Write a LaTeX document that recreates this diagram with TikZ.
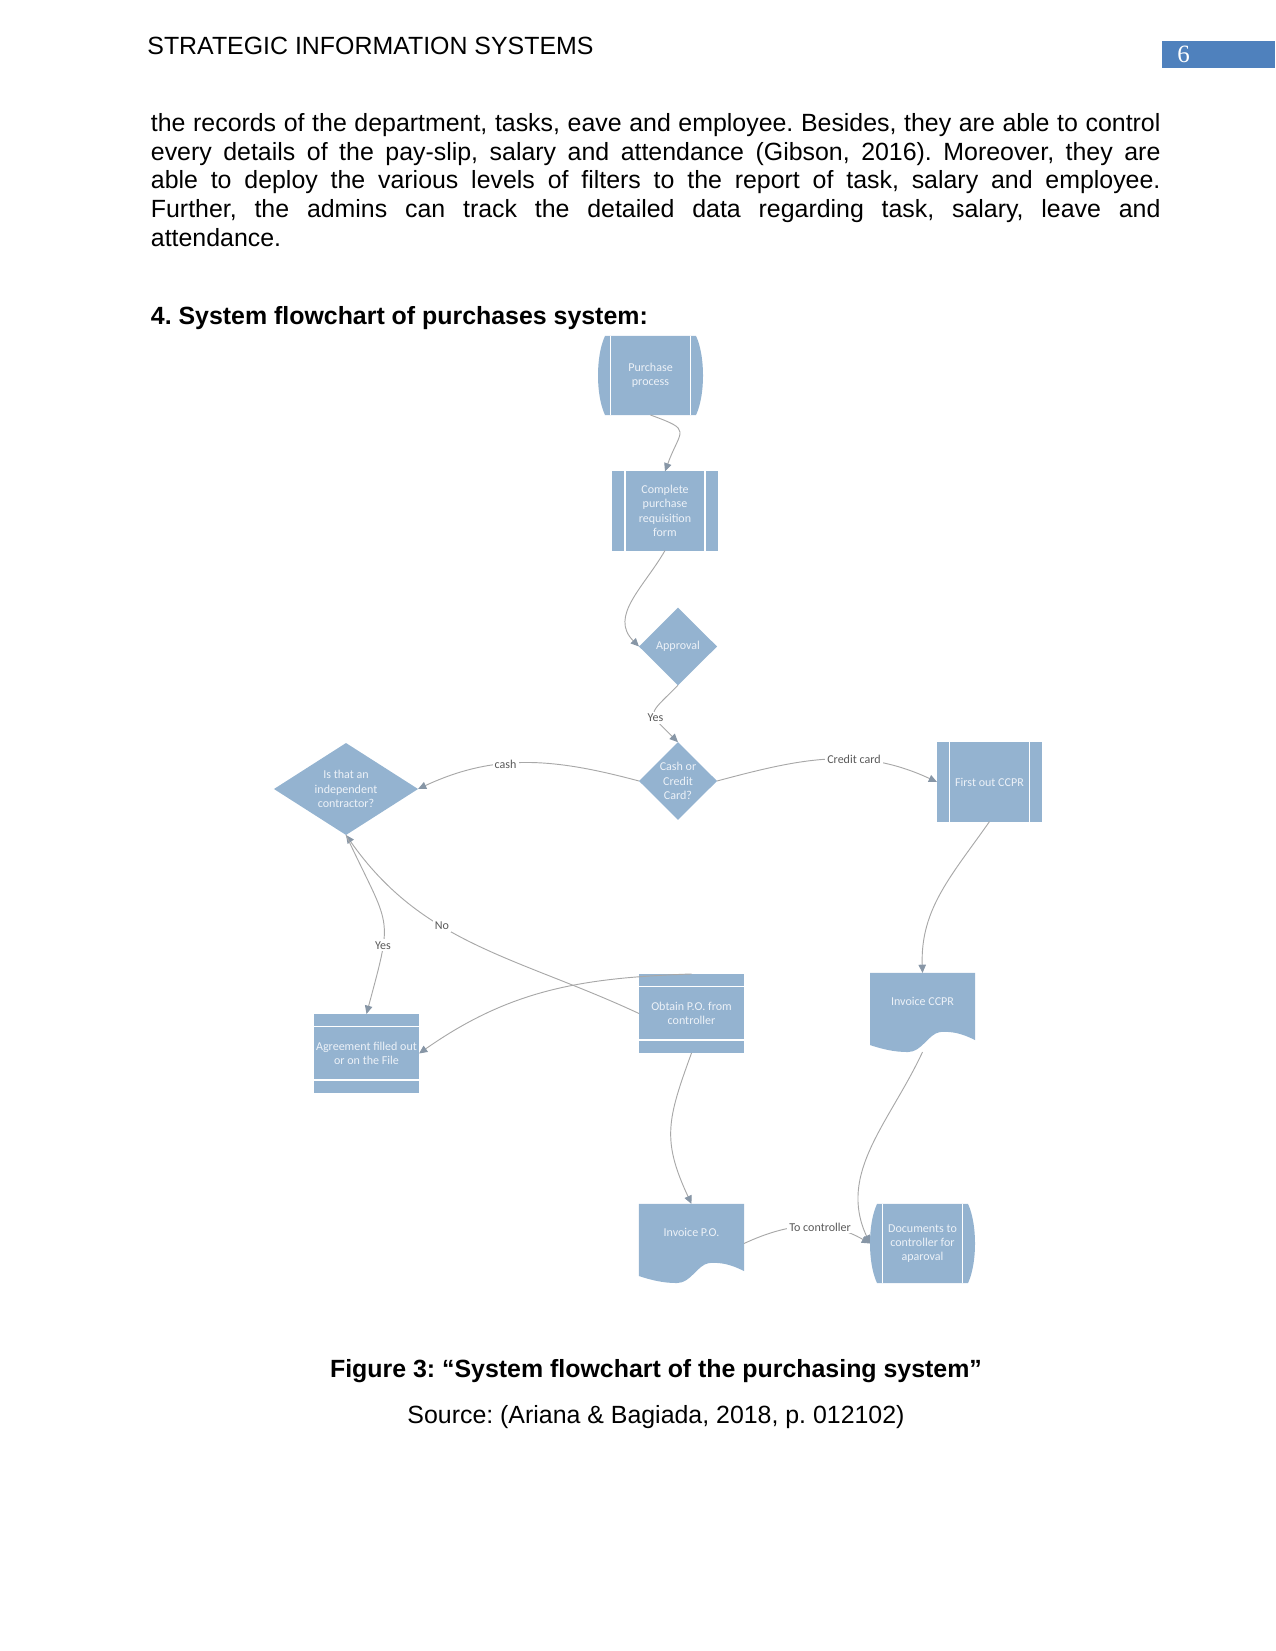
\documentclass[tikz,border=0pt]{standalone}
\usepackage{fontspec}
\setmainfont{Liberation Sans}
\newfontfamily\chartfont{Carlito}
\newfontfamily\pagenofont{Liberation Serif}
\usetikzlibrary{arrows.meta,backgrounds,calc}
\frenchspacing
\definecolor{flowfill}{HTML}{94B3D0}
\definecolor{flowtext}{HTML}{EDF2F8}
\definecolor{linkgray}{HTML}{A8A8A8}
\definecolor{tipgray}{HTML}{8796A6}
\definecolor{labelgray}{HTML}{595959}
\definecolor{pagebar}{HTML}{4F81BD}
\tikzset{
  pagetext/.style={
    font=\fontsize{12}{13.87}\selectfont,
    inner sep=0pt
  },
  flowbase/.style={
    rectangle,
    align=center,
    inner sep=1pt,
    outer sep=0pt,
    minimum width=50.6pt,
    minimum height=38.1pt,
    text=flowtext,
    font=\chartfont\fontsize{5.8}{6.9}\selectfont
  },
  docbox/.style={
    flowbase,
    text depth=11pt
  },
  decisionbox/.style={
    flowbase,
    minimum width=37.6pt,
    minimum height=37.4pt
  },
  flowsplit/.style={
    draw=white,
    line width=0.8pt
  },
  flowlink/.style={
    draw=linkgray,
    line width=0.45pt,
    -{Triangle[length=4pt,width=3.6pt,color=tipgray]}
  },
  linklabel/.style={
    fill=white,
    inner sep=1pt,
    text=labelgray,
    font=\chartfont\fontsize{5.8}{7}\selectfont
  }
}
% shapes drawn round a named node
\newcommand{\drumshape}[1]{%
  \fill[flowfill] ($(#1.south west)+(7,0)$) -- ($(#1.south east)+(-7,0)$)
    .. controls ($(#1.south east)+(2.33,20)$) and ($(#1.north east)+(2.33,-20)$) .. ($(#1.north east)+(-7,0)$)
    -- ($(#1.north west)+(7,0)$)
    .. controls ($(#1.north west)+(-2.33,-20)$) and ($(#1.south west)+(-2.33,20)$) .. ($(#1.south west)+(7,0)$) -- cycle;
  \draw[flowsplit] ($(#1.south west)+(12.5,0)$) -- ($(#1.north west)+(12.5,0)$)
    ($(#1.south east)+(-12.5,0)$) -- ($(#1.north east)+(-12.5,0)$);
}
\newcommand{\predefshape}[1]{%
  \fill[flowfill] (#1.south west) rectangle (#1.north east);
  \draw[flowsplit] ($(#1.south west)+(12.5,0)$) -- ($(#1.north west)+(12.5,0)$)
    ($(#1.south east)+(-12.5,0)$) -- ($(#1.north east)+(-12.5,0)$);
}
\newcommand{\storeshape}[1]{%
  \fill[flowfill] (#1.south west) rectangle (#1.north east);
  \draw[flowsplit] ($(#1.south west)+(0,13)$) -- ($(#1.south east)+(0,13)$)
    ($(#1.north west)+(0,-12.5)$) -- ($(#1.north east)+(0,-12.5)$);
}
\newcommand{\docshape}[1]{%
  \fill[flowfill] (#1.north west) -- (#1.north east) -- ($(#1.south east)+(0,12)$)
    .. controls ($(#1.south east)+(-12,18)$) and ($(#1.south east)+(-22,21)$) .. ($(#1.south west)+(70,20)$)
    .. controls ($(#1.south west)+(58,18)$) and ($(#1.south west)+(52,0)$) .. ($(#1.south west)+(38,0)$)
    .. controls ($(#1.south west)+(24,0)$) and ($(#1.south west)+(12,3)$) .. ($(#1.south west)+(0,7)$) -- cycle;
}
\newcommand{\decisionshape}[1]{%
  \fill[flowfill] (#1.north) -- (#1.east) -- (#1.south) -- (#1.west) -- cycle;
}

\begin{document}
\begin{tikzpicture}[x=0.4818pt, y=0.4818pt]
  \useasboundingbox (0,0) rectangle (1275,-1651);

  % running head
  \node[pagetext, anchor=base west] (header) at (147,-55) {STRATEGIC INFORMATION SYSTEMS};
  \fill[pagebar] (1162,-41) rectangle (1275,-68);
  \node[anchor=base west, inner sep=0pt, text=white, font=\pagenofont\fontsize{12}{14}\selectfont] (pageno) at (1177,-63) {6};

  % body text
  \node[pagetext, anchor=north west, text width=486.4pt, align=justify] (body) at (150.5,-110.85) {\strut
    the records of the department, tasks, eave and employee. Besides, they are able to control\linebreak
    every details of the pay-slip, salary and attendance (Gibson, 2016). Moreover, they are\linebreak
    able to deploy the various levels of filters to the report of task, salary and employee.\linebreak
    Further, the admins can track the detailed data regarding task, salary, leave and\linebreak
    attendance.};

  \node[pagetext, anchor=base west, font=\bfseries\fontsize{12}{13.87}\selectfont] (heading) at (150.5,-325) {4. System flowchart of purchases system:};

  % flowchart
  \node[flowbase] (purchase) at (650.5,-375.5) {Purchase\\process};
  \node[flowbase] (requisition) at (665,-511) {Complete\\purchase\\requisition\\form};
  \node[decisionbox] (approval) at (678,-646.5) {Approval};
  \node[decisionbox] (cashcard) at (678,-781) {Cash or\\Credit\\Card?};
  \node[decisionbox, minimum width=69.4pt, minimum height=44.3pt] (contractor) at (346,-789) {Is that an\\independent\\contractor?};
  \node[flowbase] (firstccpr) at (989.5,-782) {First out CCPR};
  \node[docbox] (invoiceccpr) at (922.5,-1012.5) {Invoice CCPR};
  \node[flowbase] (obtainpo) at (691.5,-1013.5) {Obtain P.O. from\\controller};
  \node[flowbase] (agreement) at (366.5,-1053.5) {Agreement filled out\\or on the File};
  \node[docbox] (invoicepo) at (691.5,-1243.5) {Invoice P.O.};
  \node[flowbase] (documents) at (922.5,-1243.5) {Documents to\\controller for\\aparoval};

  \begin{scope}[on background layer]
    \drumshape{purchase}
    \drumshape{documents}
    \predefshape{requisition}
    \predefshape{firstccpr}
    \storeshape{obtainpo}
    \storeshape{agreement}
    \docshape{invoiceccpr}
    \docshape{invoicepo}
    \decisionshape{approval}
    \decisionshape{cashcard}
    \decisionshape{contractor}
  \end{scope}

  % connectors
  \draw[flowlink] (purchase.south) to[out=-20,in=70,looseness=2] (requisition.north);
  \draw[flowlink] (requisition.south) to[out=-120,in=135,looseness=1.1] (approval.west);
  \draw[flowlink] (approval.south) to[out=-135,in=135,looseness=2] node[linklabel, pos=0.6] {Yes} (cashcard.north);
  \draw[flowlink] (cashcard.west) to[out=165,in=25] node[linklabel, pos=0.6] {cash} (contractor.east);
  \draw[flowlink] (cashcard.east) to[out=15,in=155] node[linklabel, pos=0.62] {Credit card} (firstccpr.west);
  \draw[flowlink] (firstccpr.south) to[out=-125,in=92] (invoiceccpr.north);
  \draw[flowlink] (invoiceccpr.south) to[out=-115,in=115] (documents.west);
  \draw[flowlink] (invoicepo.east) to[out=25,in=150] node[linklabel, pos=0.6] {To controller} (documents.west);
  \draw[flowlink] (obtainpo.south) to[out=-110,in=115,looseness=1.2] (invoicepo.north);
  \draw[flowlink] (obtainpo.west) to[out=155,in=-55] node[linklabel, pos=0.62] {No} (contractor.south);
  \draw[flowlink] (contractor.south) to[out=-65,in=75,looseness=1.5] node[linklabel, pos=0.68] {Yes} (agreement.north);
  \draw[flowlink] (obtainpo.north) to[out=182,in=35] (agreement.east);

  % caption
  \node[pagetext, anchor=base, font=\bfseries\fontsize{12}{13.87}\selectfont] (caption) at (656,-1377) {Figure 3: “System flowchart of the purchasing system”};
  \node[pagetext, anchor=base] (source) at (656,-1423) {Source: (Ariana \& Bagiada, 2018, p. 012102)};
\end{tikzpicture}
\end{document}
